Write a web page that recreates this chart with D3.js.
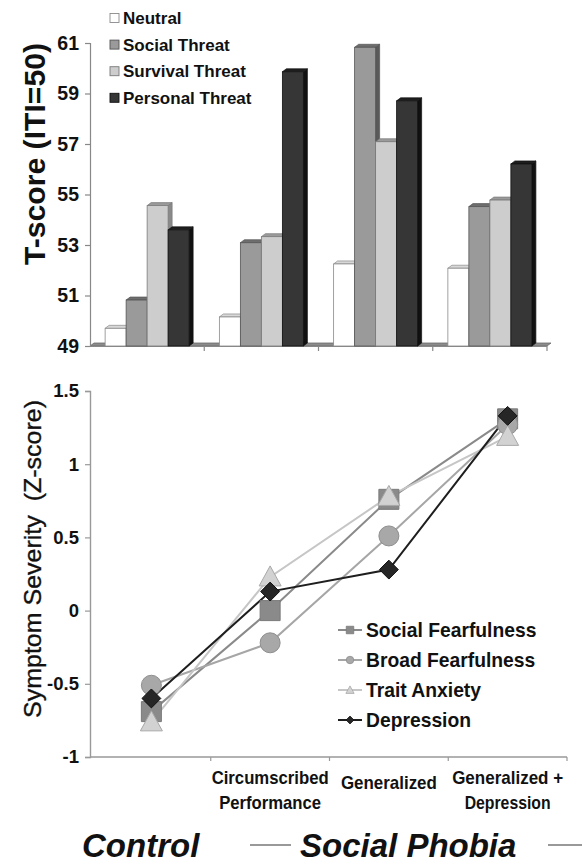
<!DOCTYPE html>
<html>
<head>
<meta charset="utf-8">
<script src="https://cdn.jsdelivr.net/npm/d3@7/dist/d3.min.js"></script>
<style>
  html, body { margin: 0; padding: 0; background: #fff; }
  svg { display: block; font-family: "Liberation Sans", Arial, Helvetica, sans-serif; }
</style>
</head>
<body>
<svg id="chart" width="582" height="867"></svg>
<script>
// ---------- DATA ----------
const groups = ["Control", "Circumscribed Performance", "Generalized", "Generalized + Depression"];
const groupLabelLines = [[], ["Circumscribed", "Performance"], ["Generalized"], ["Generalized +", "Depression"]];

const threatSeries = ["Neutral", "Social Threat", "Survival Threat", "Personal Threat"];
const neutralT  = [49.70, 50.15, 52.25, 52.08];
const socialT   = [50.82, 53.09, 60.83, 54.52];
const survivalT = [54.56, 53.33, 57.09, 54.78];
const personalT = [53.60, 59.86, 58.71, 56.21];
const tTicks = [49, 51, 53, 55, 57, 59, 61];

const symptomSeries = ["Social Fearfulness", "Broad Fearfulness", "Trait Anxiety", "Depression"];
const socialFear = [-0.69, 0.00, 0.76, 1.31];
const broadFear  = [-0.51, -0.22, 0.51, 1.27];
const traitAnx   = [-0.76, 0.23, 0.78, 1.19];
const depression = [-0.60, 0.13, 0.28, 1.33];
const zTicks = [-1, -0.5, 0, 0.5, 1, 1.5];

// ---------- SETUP ----------
const svg = d3.select("#chart");
const FONT = '"Liberation Sans", Arial, Helvetica, sans-serif';

// ========== TOP: 3D column chart ==========
const topX = d3.scaleBand().domain(groups).range([90, 547]).paddingInner(0).paddingOuter(0);
const innerX = d3.scaleBand().domain(threatSeries).range([0, 84]);
const topY = d3.scaleLinear().domain([49, 61]).range([346, 43]);
const DX = 4, DY = 3;

const barStyles = {
  "Neutral":         { front: "#ffffff", top: "#d8d8d8", side: "#bdbdbd", stroke: "#8a8a8a" },
  "Social Threat":   { front: "#9a9a9a", top: "#6e6e6e", side: "#5a5a5a", stroke: "#555" },
  "Survival Threat": { front: "#cdcdcd", top: "#9a9a9a", side: "#8a8a8a", stroke: "#7a7a7a" },
  "Personal Threat": { front: "#363636", top: "#1e1e1e", side: "#111111", stroke: "#111" }
};
const threatValues = [neutralT, socialT, survivalT, personalT];

// floor
const y0 = topY(49);
svg.append("path")
  .attr("d", `M${topX.range()[0]},${y0} L${topX.range()[1]},${y0} L${topX.range()[1]+DX},${y0-DY} L${topX.range()[0]+DX},${y0-DY} Z`)
  .attr("fill", "#8c8c8c").attr("stroke", "#6a6a6a").attr("stroke-width", 0.8);

// x axis ticks (top)
const topXAxis = svg.append("g").attr("transform", `translate(0,${y0})`);
topXAxis.append("line").attr("x1", 90).attr("x2", 547).attr("y1", 0.5).attr("y2", 0.5)
  .attr("stroke", "#888").attr("stroke-width", 1.2);
groups.forEach((g, i) => {
  const x = topX(g) + topX.bandwidth();
  topXAxis.append("line").attr("x1", x).attr("x2", x).attr("y1", 0).attr("y2", 5)
    .attr("stroke", "#888").attr("stroke-width", 1.2);
});

// bars
const barG = svg.append("g");
groups.forEach((g, gi) => {
  const gx = topX(g) + (topX.bandwidth() - 84) / 2;
  threatSeries.forEach((s, si) => {
    const v = threatValues[si][gi];
    const st = barStyles[s];
    const x = gx + innerX(s);
    const w = innerX.bandwidth();
    const yt = topY(v);
    barG.append("path")
      .attr("d", `M${x+w},${yt} L${x+w+DX},${yt-DY} L${x+w+DX},${y0-DY} L${x+w},${y0} Z`)
      .attr("fill", st.side).attr("stroke", st.stroke).attr("stroke-width", 0.7);
    barG.append("path")
      .attr("d", `M${x},${yt} L${x+DX},${yt-DY} L${x+w+DX},${yt-DY} L${x+w},${yt} Z`)
      .attr("fill", st.top).attr("stroke", st.stroke).attr("stroke-width", 0.7);
    barG.append("rect")
      .attr("x", x).attr("y", yt).attr("width", w).attr("height", y0 - yt)
      .attr("fill", st.front).attr("stroke", st.stroke).attr("stroke-width", 0.8);
  });
});

// y axis (top)
const topYAxis = svg.append("g").attr("transform", "translate(90,0)")
  .call(d3.axisLeft(topY).tickValues(tTicks).tickSize(5).tickPadding(6).tickFormat(d => String(d)));
topYAxis.select(".domain").attr("stroke", "#888").attr("stroke-width", 1.2);
topYAxis.selectAll(".tick line").attr("stroke", "#888").attr("stroke-width", 1.2);
topYAxis.selectAll(".tick text").attr("font-family", FONT).attr("font-size", 19.5)
  .attr("font-weight", "bold").attr("fill", "#111");

// y title (top)
svg.append("text")
  .attr("transform", "translate(45,154) rotate(-90)")
  .attr("text-anchor", "middle")
  .attr("font-family", FONT).attr("font-size", 29).attr("font-weight", "bold").attr("fill", "#111")
  .attr("textLength", 222).attr("lengthAdjust", "spacingAndGlyphs")
  .text("T-score (ITI=50)");

// legend (top)
const topLeg = svg.append("g");
threatSeries.forEach((s, i) => {
  const cy = 18 + i * 26.6;
  const st = barStyles[s];
  topLeg.append("rect").attr("x", 110).attr("y", cy - 4.5).attr("width", 9).attr("height", 9)
    .attr("fill", st.front).attr("stroke", st.stroke).attr("stroke-width", 0.9);
  topLeg.append("text").attr("x", 123).attr("y", cy).attr("dy", "0.36em")
    .attr("font-family", FONT).attr("font-size", 17).attr("font-weight", "bold").attr("fill", "#111")
    .text(s);
});

// ========== BOTTOM: line chart ==========
const botX = d3.scaleBand().domain(groups).range([92, 567]);
const botY = d3.scaleLinear().domain([-1, 1.5]).range([757, 391]);

const botXAxis = svg.append("g").attr("transform", "translate(0,757)");
botXAxis.append("line").attr("x1", 90).attr("x2", 567).attr("y1", 0).attr("y2", 0)
  .attr("stroke", "#999").attr("stroke-width", 1.4);
groups.forEach((g) => {
  const x = botX(g) + botX.bandwidth();
  botXAxis.append("line").attr("x1", x).attr("x2", x).attr("y1", 0).attr("y2", 4)
    .attr("stroke", "#999").attr("stroke-width", 1.2);
});
const labelWidths = { "Circumscribed": 117, "Performance": 102, "Generalized": 96, "Generalized +": 111, "Depression": 86 };
groups.forEach((g, gi) => {
  const lines = groupLabelLines[gi];
  const cx = botX(g) + botX.bandwidth() / 2;
  const baseY = lines.length === 1 ? 789 : 784;
  lines.forEach((ln, li) => {
    botXAxis.append("text").attr("x", cx).attr("y", baseY - 757 + li * 25)
      .attr("text-anchor", "middle")
      .attr("font-family", FONT).attr("font-size", 19).attr("font-weight", "bold").attr("fill", "#111")
      .attr("textLength", labelWidths[ln]).attr("lengthAdjust", "spacingAndGlyphs")
      .text(ln);
  });
});

const botYAxis = svg.append("g").attr("transform", "translate(90,0)")
  .call(d3.axisLeft(botY).tickValues(zTicks).tickSize(5).tickPadding(6).tickFormat(d => String(d)));
botYAxis.select(".domain").attr("stroke", "#999").attr("stroke-width", 1.4);
botYAxis.selectAll(".tick line").attr("stroke", "#999").attr("stroke-width", 1.2);
botYAxis.selectAll(".tick text").attr("font-family", FONT).attr("font-size", 18.5)
  .attr("font-weight", "bold").attr("fill", "#111");

svg.append("text")
  .attr("transform", "translate(41,559) rotate(-90)")
  .attr("text-anchor", "middle")
  .attr("font-family", FONT).attr("font-size", 24).attr("fill", "#111")
  .attr("stroke", "#111").attr("stroke-width", 0.35)
  .attr("textLength", 318).attr("lengthAdjust", "spacingAndGlyphs")
  .style("white-space", "pre")
  .text("Symptom Severity  (Z-score)");

const lineStyles = {
  "Social Fearfulness": { line: "#8a8a8a", fill: "#8a8a8a", stroke: "#7a7a7a", shape: "square" },
  "Broad Fearfulness":  { line: "#a6a6a6", fill: "#a8a8a8", stroke: "#8e8e8e", shape: "circle" },
  "Trait Anxiety":      { line: "#c6c6c6", fill: "#d2d2d2", stroke: "#a8a8a8", shape: "triangle" },
  "Depression":         { line: "#1e1e1e", fill: "#262626", stroke: "#111", shape: "diamond" }
};
const symptomValues = [socialFear, broadFear, traitAnx, depression];
const cxOf = g => botX(g) + botX.bandwidth() / 2;

function markerPath(shape, size) {
  const h = size / 2;
  if (shape === "square") return `M${-h},${-h}H${h}V${h}H${-h}Z`;
  if (shape === "circle") return d3.symbol(d3.symbolCircle, Math.PI * h * h)();
  if (shape === "triangle") return `M0,${-h*1.1}L${h*1.1},${h*0.9}L${-h*1.1},${h*0.9}Z`;
  if (shape === "diamond") return `M0,${-h*1.05}L${h*1.05},0L0,${h*1.05}L${-h*1.05},0Z`;
}

const lineGen = d3.line().x(d => cxOf(d.g)).y(d => botY(d.v));
symptomSeries.forEach((s, si) => {
  const pts = groups.map((g, gi) => ({ g, v: symptomValues[si][gi] }));
  svg.append("path").datum(pts).attr("d", lineGen)
    .attr("fill", "none").attr("stroke", lineStyles[s].line).attr("stroke-width", 2);
});
symptomSeries.forEach((s, si) => {
  const st = lineStyles[s];
  const size = st.shape === "diamond" ? 18 : 20;
  groups.forEach((g, gi) => {
    svg.append("path")
      .attr("transform", `translate(${cxOf(g)},${botY(symptomValues[si][gi])})`)
      .attr("d", markerPath(st.shape, size))
      .attr("fill", st.fill).attr("stroke", st.stroke).attr("stroke-width", 1);
  });
});

// legend (bottom)
const botLeg = svg.append("g");
symptomSeries.forEach((s, i) => {
  const cy = 630 + i * 30;
  const st = lineStyles[s];
  botLeg.append("line").attr("x1", 338).attr("x2", 362).attr("y1", cy).attr("y2", cy)
    .attr("stroke", st.line).attr("stroke-width", 2);
  botLeg.append("path").attr("transform", `translate(350,${cy})`)
    .attr("d", markerPath(st.shape, 7.5))
    .attr("fill", st.fill).attr("stroke", st.stroke).attr("stroke-width", 0.8);
  botLeg.append("text").attr("x", 366).attr("y", cy).attr("dy", "0.36em")
    .attr("font-family", FONT).attr("font-size", 19.3).attr("font-weight", "bold").attr("fill", "#111")
    .text(s);
});

// ========== group labels at bottom ==========
svg.append("text").attr("x", 82).attr("y", 857)
  .attr("font-family", FONT).attr("font-size", 33).attr("font-weight", "bold").attr("font-style", "italic")
  .attr("fill", "#111").text("Control");
svg.append("line").attr("x1", 250).attr("x2", 291).attr("y1", 845).attr("y2", 845)
  .attr("stroke", "#777").attr("stroke-width", 1.5);
svg.append("text").attr("x", 300).attr("y", 857)
  .attr("font-family", FONT).attr("font-size", 33).attr("font-weight", "bold").attr("font-style", "italic")
  .attr("fill", "#111").text("Social Phobia");
svg.append("line").attr("x1", 548).attr("x2", 582).attr("y1", 845).attr("y2", 845)
  .attr("stroke", "#777").attr("stroke-width", 1.5);
</script>
</body>
</html>
